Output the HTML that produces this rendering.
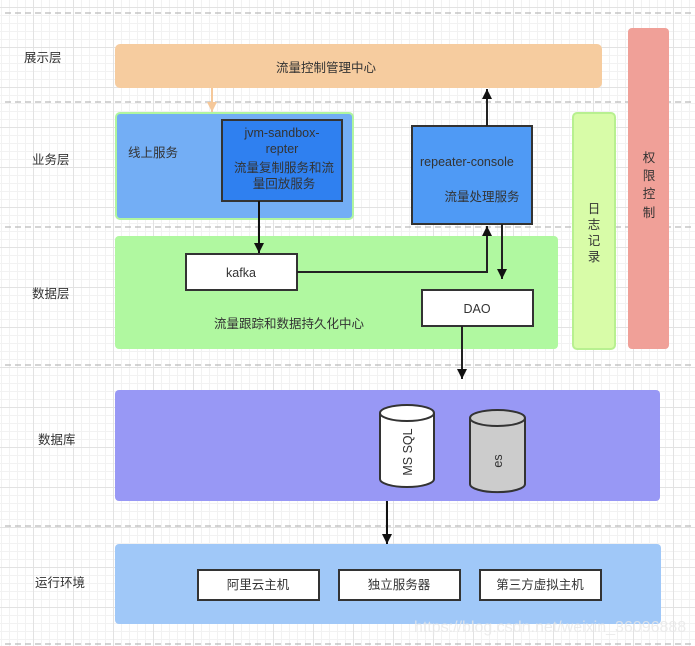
<!DOCTYPE html>
<html><head><meta charset="utf-8"><style>
html,body{margin:0;padding:0}
body{width:695px;height:646px;overflow:hidden;background-color:#fff;
background-image:linear-gradient(#e2e2e2 1px,transparent 1px),linear-gradient(90deg,#e2e2e2 1px,transparent 1px),linear-gradient(#f2f2f2 1px,transparent 1px),linear-gradient(90deg,#f2f2f2 1px,transparent 1px);
background-size:40px 40px,40px 40px,8px 8px,8px 8px;background-position:33px 7px,33px 7px,1px 7px,1px 7px;
font-family:"Liberation Sans","Noto Sans CJK SC",sans-serif}
svg text{font-family:"Liberation Sans","Noto Sans CJK SC",sans-serif;font-size:12.5px;fill:#333}
</style></head><body>
<svg width="695" height="646" xmlns="http://www.w3.org/2000/svg" style="position:absolute;left:0;top:0">
<defs><marker id="a" markerWidth="12" markerHeight="12" refX="10" refY="5" orient="auto" markerUnits="userSpaceOnUse"><path d="M0,0 L10,5 L0,10 Z" fill="#111"/></marker>
<marker id="o" markerWidth="12" markerHeight="12" refX="10" refY="5" orient="auto" markerUnits="userSpaceOnUse"><path d="M0,0 L10,5 L0,10 Z" fill="#f5c89a"/></marker></defs>
<g stroke="#aaa" stroke-dasharray="6,4" stroke-width="1">
<line x1="5" y1="13" x2="695" y2="13"/><line x1="5" y1="102" x2="695" y2="102"/><line x1="5" y1="227" x2="695" y2="227"/><line x1="5" y1="365" x2="695" y2="365"/><line x1="5" y1="526" x2="695" y2="526"/><line x1="5" y1="644" x2="695" y2="644"/></g>
<text x="24" y="62">展示层</text><text x="32" y="164">业务层</text><text x="32" y="298">数据层</text><text x="38" y="444">数据库</text><text x="35" y="587">运行环境</text>
<rect x="115" y="44" width="487" height="44" rx="5" fill="#f6cc9f"/>
<text x="326" y="72" text-anchor="middle">流量控制管理中心</text>
<line x1="212" y1="88" x2="212" y2="112" stroke="#f5c89a" stroke-width="2" marker-end="url(#o)"/>
<rect x="628" y="28" width="41" height="321" rx="4" fill="#f0a098"/>
<text x="649" y="162" text-anchor="middle">权</text><text x="649" y="180" text-anchor="middle">限</text><text x="649" y="198" text-anchor="middle">控</text><text x="649" y="217" text-anchor="middle">制</text>
<rect x="573" y="113" width="42" height="236" rx="4" fill="#d8fca8" stroke="#b8f090" stroke-width="2"/>
<text x="594" y="213" text-anchor="middle">日</text><text x="594" y="229" text-anchor="middle">志</text><text x="594" y="245" text-anchor="middle">记</text><text x="594" y="261" text-anchor="middle">录</text>
<rect x="116" y="113" width="237" height="106" rx="4" fill="#73aef5" stroke="#b0f5a0" stroke-width="2"/>
<text x="128" y="157">线上服务</text>
<rect x="115" y="236" width="443" height="113" rx="4" fill="#b0f8a0"/>
<text x="289" y="328" text-anchor="middle">流量跟踪和数据持久化中心</text>
<rect x="222" y="120" width="120" height="81" fill="#2f80f0" stroke="#333" stroke-width="2"/>
<text x="282" y="137" text-anchor="middle">jvm-sandbox-</text><text x="282" y="153" text-anchor="middle">repter</text>
<text x="284" y="172" text-anchor="middle">流量复制服务和流</text><text x="284" y="188" text-anchor="middle">量回放服务</text>
<rect x="412" y="126" width="120" height="98" fill="#4f9af5" stroke="#333" stroke-width="2"/>
<text x="420" y="166">repeater-console</text><text x="482" y="201" text-anchor="middle">流量处理服务</text>
<line x1="487" y1="126" x2="487" y2="89" stroke="#222" stroke-width="2" marker-end="url(#a)"/>
<line x1="259" y1="201" x2="259" y2="253" stroke="#111" stroke-width="2" marker-end="url(#a)"/>
<rect x="186" y="254" width="111" height="36" fill="#fff" stroke="#333" stroke-width="2"/>
<text x="241" y="277" text-anchor="middle">kafka</text>
<polyline points="297,272 487,272 487,226" fill="none" stroke="#222" stroke-width="2" marker-end="url(#a)"/>
<line x1="502" y1="224" x2="502" y2="279" stroke="#222" stroke-width="2" marker-end="url(#a)"/>
<rect x="422" y="290" width="111" height="36" fill="#fff" stroke="#333" stroke-width="2"/>
<text x="477" y="313" text-anchor="middle">DAO</text>
<line x1="462" y1="326" x2="462" y2="379" stroke="#222" stroke-width="2" marker-end="url(#a)"/>
<rect x="115" y="390" width="545" height="111" rx="4" fill="#9898f5"/>
<path d="M380,413 v66 a27,8 0 0 0 54,0 v-66" fill="#fff" stroke="#333" stroke-width="2"/><ellipse cx="407" cy="413" rx="27" ry="8" fill="#fff" stroke="#333" stroke-width="2"/>
<text transform="translate(412,452) rotate(-90)" text-anchor="middle">MS SQL</text>
<path d="M470,418 v66 a27,8 0 0 0 55,0 v-66" fill="#ccc" stroke="#333" stroke-width="2"/><ellipse cx="497.5" cy="418" rx="27.5" ry="8" fill="#ccc" stroke="#333" stroke-width="2"/>
<text transform="translate(502,461) rotate(-90)" text-anchor="middle">es</text>
<line x1="387" y1="501" x2="387" y2="544" stroke="#111" stroke-width="2" marker-end="url(#a)"/>
<rect x="115" y="544" width="546" height="80" rx="4" fill="#a0c8f8"/>
<rect x="198" y="570" width="121" height="30" fill="#fff" stroke="#333" stroke-width="2"/><text x="258" y="589" text-anchor="middle">阿里云主机</text>
<rect x="339" y="570" width="121" height="30" fill="#fff" stroke="#333" stroke-width="2"/><text x="399" y="589" text-anchor="middle">独立服务器</text>
<rect x="480" y="570" width="121" height="30" fill="#fff" stroke="#333" stroke-width="2"/><text x="540" y="589" text-anchor="middle">第三方虚拟主机</text>
<text x="414" y="632" style="font-size:16px;fill:#e8e8e8;opacity:0.8">https://blog.csdn.net/weixin_36096888</text>
</svg>
</body></html>
